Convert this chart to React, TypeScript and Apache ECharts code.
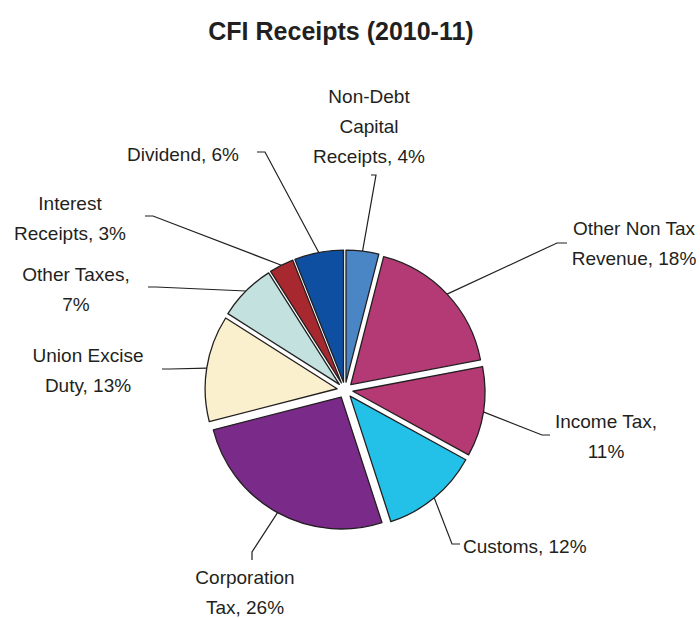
import React, { useEffect, useRef } from "react";
import * as echarts from "echarts";

const titleText = "CFI Receipts (2010-11)";
const categories = [
  "Non-Debt Capital Receipts",
  "Other Non Tax Revenue",
  "Income Tax",
  "Customs",
  "Corporation Tax",
  "Union Excise Duty",
  "Other Taxes",
  "Interest Receipts",
  "Dividend",
];
const shares = [4, 18, 11, 12, 26, 13, 7, 3, 6];
// wrapped label names as shown in the chart
const wrappedNames = [
  "Non-Debt\nCapital\nReceipts",
  "Other Non Tax\nRevenue",
  "Income Tax",
  "Customs",
  "Corporation\nTax",
  "Union Excise\nDuty",
  "Other Taxes",
  "Interest\nReceipts",
  "Dividend",
];
// whether the percentage goes onto its own line
const pctOnNewLine = [false, false, true, false, false, false, true, false, false];
const colors = [
  "#4a86c5",
  "#b43a76",
  "#b53a74",
  "#23c1e7",
  "#7a2a88",
  "#faf0cd",
  "#c3e2df",
  "#a8282f",
  "#0e4fa1",
];

// label placement (style only)
const labelPlace: any[] = [
  { x: 369, y: 126, align: "center", elbow: [376, 175], end: [371, 175] },
  { x: 634, y: 243, align: "center", elbow: [557, 243], end: [567, 243] },
  { x: 606, y: 436, align: "center", elbow: [542, 435], end: [550, 435] },
  { x: 463, y: 546, align: "left", elbow: [452, 544], end: [460, 544] },
  { x: 245, y: 592, align: "center", elbow: [252, 552], end: [252, 560] },
  { x: 88, y: 370, align: "center", elbow: [170, 369], end: [162, 369] },
  { x: 76, y: 289, align: "center", elbow: [156, 287], end: [148, 287] },
  { x: 70, y: 218, align: "center", elbow: [153, 216], end: [145, 216] },
  { x: 239, y: 154, align: "right", elbow: [265, 152], end: [257, 152] },
];

const CX = 345;
const CY = 390;
const R = 132;
const OFFSET = 8;
const FONT = "'Liberation Sans', Arial, Helvetica, sans-serif";
const INK = "#231f20";

export default function App() {
  const ref = useRef<HTMLDivElement>(null);
  useEffect(() => {
    if (!ref.current) return;
    const chart = echarts.init(ref.current, undefined, { renderer: "svg" });
    const sliceData = categories.map((name, i) => ({
      name,
      value: shares[i],
      selected: true,
      itemStyle: { color: colors[i] },
    }));
    const labelData = categories.map((name, i) => ({ name, value: shares[i] }));
    chart.setOption({
      animation: false,
      backgroundColor: "#ffffff",
      graphic: [
        {
          type: "text",
          x: 341,
          y: 31,
          style: {
            text: titleText,
            align: "center",
            verticalAlign: "middle",
            font: `bold 25px ${FONT}`,
            fill: INK,
          },
        },
      ],
      series: [
        {
          type: "pie",
          center: [CX, CY],
          radius: R,
          startAngle: 90,
          clockwise: true,
          selectedMode: "multiple",
          selectedOffset: OFFSET,
          silent: true,
          emphasis: { disabled: true },
          itemStyle: { borderColor: INK, borderWidth: 1.3 },
          label: { show: false },
          labelLine: { show: false },
          data: sliceData,
        },
        {
          type: "pie",
          center: [CX, CY],
          radius: R,
          startAngle: 90,
          clockwise: true,
          silent: true,
          selectedMode: false,
          emphasis: { disabled: true },
          itemStyle: { color: "rgba(0,0,0,0)", borderWidth: 0 },
          label: {
            show: true,
            position: "outside",
            fontSize: 19,
            lineHeight: 30,
            fontFamily: FONT,
            color: INK,
            formatter: (p: any) => {
              const i = p.dataIndex;
              const pct = Math.round(p.percent) + "%";
              return wrappedNames[i] + "," + (pctOnNewLine[i] ? "\n" : " ") + pct;
            },
          },
          labelLine: {
            show: true,
            length: 20,
            length2: 10,
            lineStyle: { color: INK, width: 1.2 },
          },
          labelLayout: (params: any) => {
            const lp = labelPlace[params.dataIndex];
            const pts = params.labelLinePoints;
            const out: any = {
              x: lp.x,
              y: lp.y,
              align: lp.align,
              verticalAlign: "middle",
            };
            if (pts && pts.length) {
              const p0 = pts[0];
              const k = (R + OFFSET) / R;
              const start = [CX + (p0[0] - CX) * k, CY + (p0[1] - CY) * k];
              out.labelLinePoints = [start, lp.elbow, lp.end];
            }
            return out;
          },
          data: labelData,
        },
      ],
    });
    return () => chart.dispose();
  }, []);
  return (
    <div
      ref={ref}
      style={{ position: "fixed", left: 0, top: 0, width: 700, height: 618 }}
    />
  );
}
